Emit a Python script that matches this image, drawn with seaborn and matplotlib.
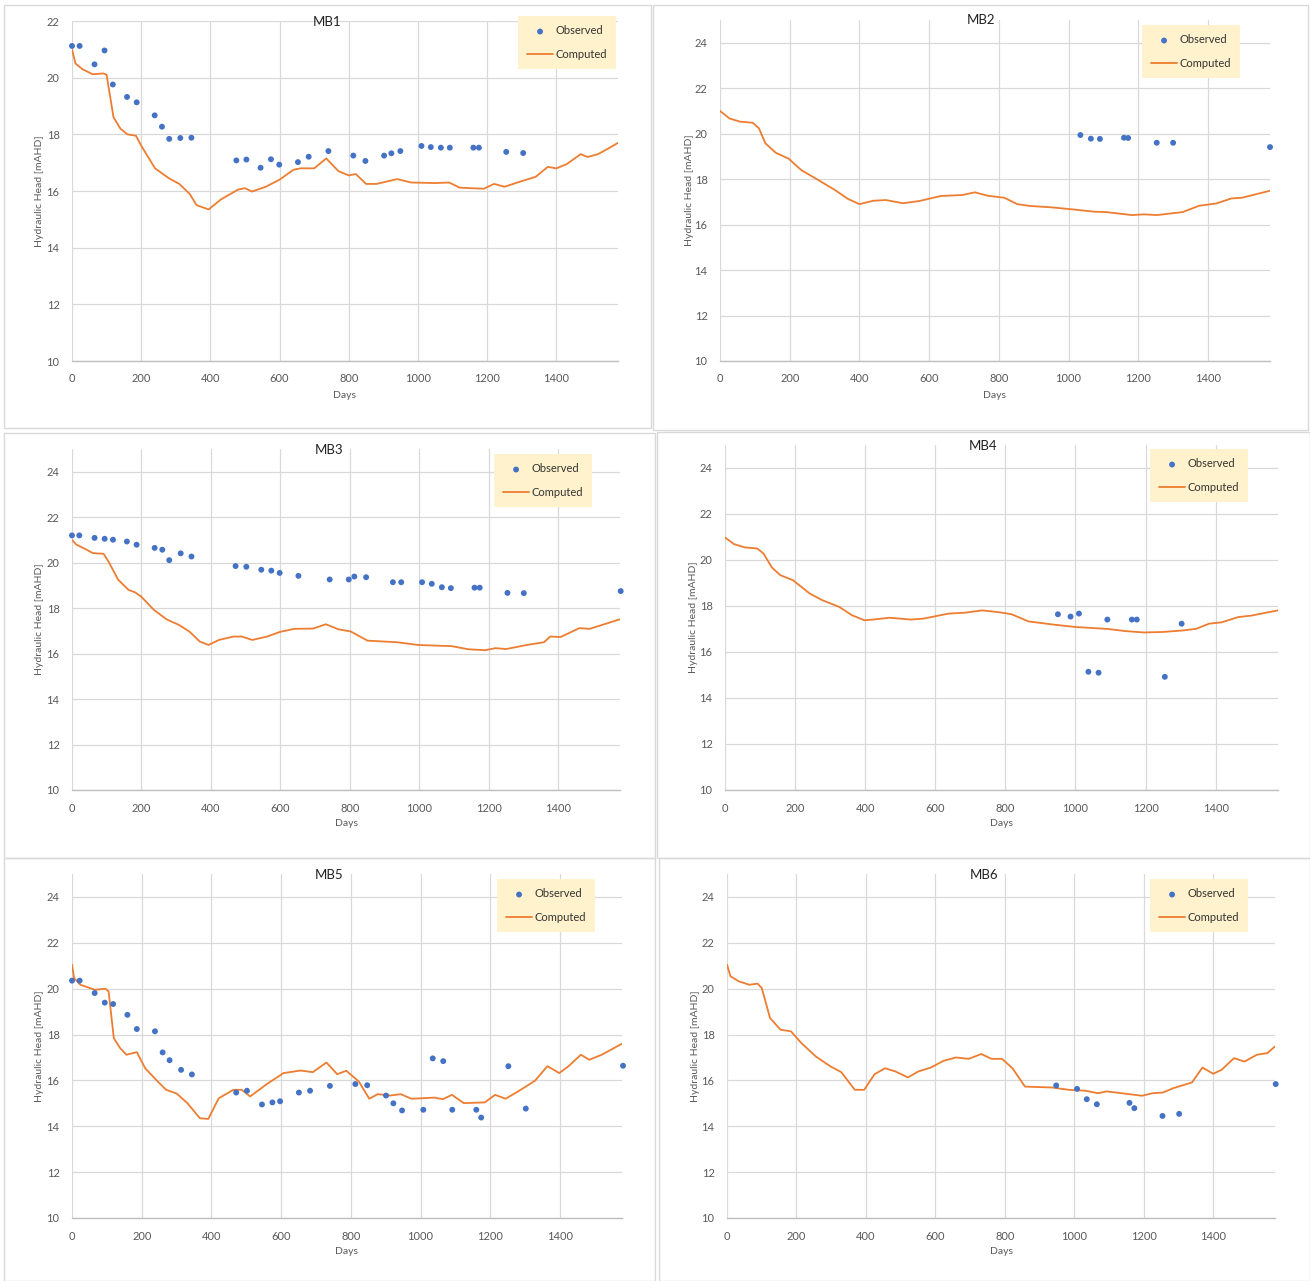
import pandas as pd
import seaborn as sns
import matplotlib.pyplot as plt
from matplotlib.patches import Rectangle

# observed heads (days, mAHD)
mb1_obs_days = [0, 22, 65, 94, 118, 159, 187, 239, 260, 281, 313, 345, 475, 504, 545, 575, 599,
                653, 684, 741, 813, 848, 902, 923, 949, 1010, 1037, 1066, 1092, 1160, 1176, 1255, 1304]
mb1_obs_head = [21.12, 21.12, 20.47, 20.96, 19.76, 19.32, 19.13, 18.67, 18.27, 17.84, 17.87, 17.88,
                17.08, 17.11, 16.82, 17.12, 16.93, 17.02, 17.21, 17.41, 17.25, 17.06, 17.25, 17.33,
                17.41, 17.59, 17.55, 17.53, 17.53, 17.53, 17.53, 17.38, 17.34]
mb2_obs_days = [1034, 1064, 1090, 1159, 1171, 1253, 1300, 1578]
mb2_obs_head = [19.94, 19.78, 19.77, 19.82, 19.81, 19.6, 19.6, 19.41]
mb3_obs_days = [0, 21, 65, 94, 118, 158, 186, 238, 260, 280, 313, 344, 471, 502, 545, 574, 598,
                652, 742, 797, 813, 847, 924, 948, 1008, 1036, 1065, 1091, 1159, 1174, 1254, 1301, 1580]
mb3_obs_head = [21.2, 21.2, 21.09, 21.05, 21.01, 20.93, 20.79, 20.65, 20.57, 20.11, 20.41, 20.27,
                19.85, 19.82, 19.69, 19.65, 19.55, 19.42, 19.26, 19.26, 19.39, 19.36, 19.14, 19.14,
                19.14, 19.07, 18.92, 18.88, 18.9, 18.9, 18.67, 18.66, 18.75]
mb4_obs_days = [950, 986, 1010, 1037, 1066, 1091, 1161, 1175, 1255, 1303]
mb4_obs_head = [17.64, 17.54, 17.67, 15.14, 15.1, 17.41, 17.41, 17.41, 14.92, 17.23]
mb5_obs_days = [0, 22, 65, 94, 118, 159, 186, 238, 260, 280, 313, 344, 471, 502, 545, 575, 597,
                651, 683, 740, 813, 847, 901, 922, 947, 1008, 1035, 1065, 1091, 1160, 1174, 1252, 1302, 1581]
mb5_obs_head = [20.35, 20.35, 19.81, 19.39, 19.33, 18.86, 18.24, 18.14, 17.22, 16.88, 16.46, 16.26,
                15.47, 15.55, 14.95, 15.04, 15.09, 15.47, 15.55, 15.76, 15.84, 15.79, 15.34, 15.0,
                14.69, 14.72, 16.96, 16.84, 14.72, 14.72, 14.38, 16.62, 14.77, 16.64]
mb6_obs_days = [948, 1008, 1036, 1065, 1159, 1173, 1254, 1302, 1580]
mb6_obs_head = [15.78, 15.63, 15.18, 14.96, 15.02, 14.79, 14.45, 14.54, 15.84]

# computed heads (days, mAHD)
mb1_sim_days = [0, 10, 30, 60, 90, 100, 120, 140, 160, 185, 200, 240, 280, 310, 340, 360, 395, 430,
                480, 500, 520, 560, 600, 640, 660, 700, 735, 770, 800, 820, 850, 880, 940, 980, 1050,
                1090, 1120, 1150, 1190, 1220, 1250, 1300, 1340, 1375, 1400, 1430, 1470, 1490, 1520,
                1550, 1578]
mb1_sim_head = [21.0, 20.5, 20.3, 20.12, 20.15, 20.1, 18.6, 18.2, 18.0, 17.95, 17.6, 16.8, 16.45,
                16.25, 15.9, 15.5, 15.35, 15.7, 16.05, 16.1, 15.98, 16.15, 16.4, 16.75, 16.8, 16.8,
                17.15, 16.7, 16.55, 16.6, 16.25, 16.25, 16.42, 16.3, 16.28, 16.3, 16.12, 16.1, 16.08,
                16.25, 16.15, 16.35, 16.5, 16.85, 16.8, 16.95, 17.3, 17.2, 17.3, 17.5, 17.7]
mb2_sim_days = [0, 27, 57, 94, 112, 130, 160, 197, 233, 282, 330, 367, 400, 440, 476, 525, 573, 634,
                695, 731, 768, 816, 853, 889, 950, 1011, 1072, 1108, 1181, 1217, 1254, 1327, 1375,
                1424, 1467, 1497, 1578]
mb2_sim_head = [21.0, 20.67, 20.53, 20.48, 20.23, 19.58, 19.16, 18.9, 18.4, 17.96, 17.52, 17.13,
                16.9, 17.05, 17.08, 16.94, 17.04, 17.26, 17.3, 17.42, 17.27, 17.18, 16.9, 16.82,
                16.76, 16.67, 16.57, 16.55, 16.42, 16.45, 16.42, 16.55, 16.83, 16.93, 17.15, 17.18,
                17.49]
mb3_sim_days = [0, 12, 42, 60, 91, 105, 133, 163, 181, 199, 236, 272, 308, 338, 368, 393, 423, 465,
                489, 519, 562, 598, 640, 694, 731, 767, 803, 851, 936, 996, 1069, 1093, 1141, 1190,
                1220, 1250, 1310, 1359, 1377, 1407, 1461, 1491, 1578]
mb3_sim_head = [21.0, 20.8, 20.57, 20.42, 20.39, 20.05, 19.25, 18.8, 18.7, 18.51, 17.92, 17.51,
                17.26, 16.97, 16.53, 16.38, 16.6, 16.75, 16.75, 16.6, 16.75, 16.95, 17.09, 17.1,
                17.29, 17.07, 16.97, 16.57, 16.5, 16.38, 16.34, 16.33, 16.19, 16.15, 16.24, 16.2,
                16.38, 16.5, 16.75, 16.73, 17.12, 17.09, 17.51]
mb4_sim_days = [0, 26, 56, 92, 110, 134, 158, 194, 242, 278, 326, 362, 398, 422, 470, 530, 566, 638,
                686, 734, 782, 818, 866, 938, 998, 1094, 1142, 1195, 1249, 1309, 1345, 1381, 1417,
                1465, 1501, 1578]
mb4_sim_head = [20.98, 20.69, 20.55, 20.5, 20.28, 19.67, 19.34, 19.12, 18.54, 18.25, 17.96, 17.6,
                17.38, 17.41, 17.49, 17.41, 17.45, 17.67, 17.71, 17.81, 17.73, 17.64, 17.33, 17.19,
                17.09, 17.0, 16.91, 16.85, 16.87, 16.94, 17.01, 17.23, 17.29, 17.52, 17.58, 17.81]
mb5_sim_days = [0, 6, 24, 66, 96, 105, 120, 138, 156, 186, 210, 246, 270, 300, 331, 367, 391, 421,
                463, 487, 511, 559, 607, 655, 691, 730, 761, 787, 823, 853, 877, 913, 943, 974, 1040,
                1064, 1090, 1124, 1184, 1214, 1244, 1280, 1328, 1364, 1398, 1424, 1460, 1484, 1520,
                1578]
mb5_sim_head = [21.05, 20.46, 20.17, 19.95, 20.0, 19.88, 17.84, 17.41, 17.12, 17.23, 16.53, 15.95,
                15.59, 15.43, 15.01, 14.35, 14.32, 15.22, 15.59, 15.59, 15.3, 15.84, 16.32, 16.43,
                16.36, 16.78, 16.27, 16.42, 15.95, 15.2, 15.4, 15.34, 15.4, 15.2, 15.25, 15.18,
                15.37, 15.01, 15.04, 15.37, 15.2, 15.52, 15.98, 16.62, 16.32, 16.61, 17.12, 16.9,
                17.12, 17.6]
mb6_sim_days = [0, 10, 34, 64, 88, 100, 124, 154, 184, 214, 256, 298, 329, 368, 395, 425, 455, 485,
                521, 551, 587, 623, 659, 696, 732, 762, 792, 822, 858, 936, 984, 1032, 1068, 1093,
                1153, 1195, 1225, 1255, 1285, 1339, 1369, 1400, 1424, 1460, 1490, 1526, 1556, 1578]
mb6_sim_head = [21.05, 20.54, 20.32, 20.17, 20.22, 20.03, 18.72, 18.21, 18.14, 17.63, 17.04, 16.61,
                16.36, 15.59, 15.59, 16.27, 16.53, 16.39, 16.13, 16.39, 16.56, 16.85, 17.0, 16.94,
                17.15, 16.94, 16.94, 16.53, 15.73, 15.69, 15.59, 15.55, 15.44, 15.52, 15.41, 15.33,
                15.44, 15.47, 15.66, 15.91, 16.56, 16.29, 16.46, 16.97, 16.82, 17.12, 17.19, 17.48]

wells = ['MB1', 'MB2', 'MB3', 'MB4', 'MB5', 'MB6']
obs = [(mb1_obs_days, mb1_obs_head), (mb2_obs_days, mb2_obs_head), (mb3_obs_days, mb3_obs_head),
       (mb4_obs_days, mb4_obs_head), (mb5_obs_days, mb5_obs_head), (mb6_obs_days, mb6_obs_head)]
sim = [(mb1_sim_days, mb1_sim_head), (mb2_sim_days, mb2_sim_head), (mb3_sim_days, mb3_sim_head),
       (mb4_sim_days, mb4_sim_head), (mb5_sim_days, mb5_sim_head), (mb6_sim_days, mb6_sim_head)]
y_top = [22, 25, 25, 25, 25, 25]
y_ticks_max = [22, 24, 24, 24, 24, 24]

# layout in pixels: panel box (x0, y0, x1, y1), plot area (left, top, right, bottom), legend box
panels = [(4, 5, 651, 428), (653, 5, 1308, 430), (4, 433, 655, 858),
          (657, 432, 1310, 858), (4, 858, 655, 1281), (659, 858, 1310, 1281)]
plot_areas = [(72, 21, 618, 361), (720, 20, 1270, 361), (72, 449, 620, 790),
              (725, 445, 1278, 790), (72, 874, 622, 1218), (727, 874, 1275, 1218)]
legend_boxes = [(514, 16, 616, 68), (1137, 25, 1240, 77), (489, 454, 592, 506),
                (1145, 449, 1248, 502), (491, 879, 595, 931), (1145, 879, 1248, 931)]
title_y = [22, 20, 450, 446, 875, 875]

W, H = 1310, 1281
BLUE = '#4472c4'
ORANGE = '#ed7d31'
GREY = '#595959'

sns.set_theme(style='whitegrid')
plt.rcParams['font.family'] = ['Lato', 'DejaVu Sans']

fig = plt.figure(figsize=(W / 100, H / 100), dpi=100)
fig.patch.set_facecolor('white')

for i, name in enumerate(wells):
    px0, py0, px1, py1 = panels[i]
    fig.patches.append(Rectangle((px0 / W, 1 - py1 / H), (px1 - px0) / W, (py1 - py0) / H,
                                 transform=fig.transFigure, fill=False,
                                 edgecolor='#d9d9d9', lw=1))
    l, t, r, b = plot_areas[i]
    ax = fig.add_axes([l / W, 1 - b / H, (r - l) / W, (b - t) / H])

    df_sim = pd.DataFrame({'Days': sim[i][0], 'Head': sim[i][1]})
    df_obs = pd.DataFrame({'Days': obs[i][0], 'Head': obs[i][1]})
    sns.scatterplot(data=df_obs, x='Days', y='Head', ax=ax, color=BLUE, s=18,
                    edgecolor='none', label='Observed', zorder=3, clip_on=False)
    sns.lineplot(data=df_sim, x='Days', y='Head', ax=ax, color=ORANGE, lw=1.3,
                 label='Computed', zorder=2)

    ax.set_xlim(0, 1578)
    ax.set_ylim(10, y_top[i])
    ax.set_xticks(range(0, 1401, 200))
    ax.set_yticks(range(10, y_ticks_max[i] + 1, 2))
    ax.grid(True, color='#d9d9d9', lw=0.9)
    for s in ['top', 'right', 'left']:
        ax.spines[s].set_visible(False)
    ax.spines['bottom'].set_color('#bfbfbf')
    ax.spines['bottom'].set_linewidth(1)
    ax.tick_params(axis='both', length=0, labelsize=8, colors=GREY)
    ax.tick_params(axis='y', pad=9)
    ax.tick_params(axis='x', pad=9)

    ax.set_xlabel('Days', fontsize=7.5, color=GREY)
    ax.set_ylabel('Hydraulic Head [mAHD]', fontsize=7.5, color=GREY)
    ax.xaxis.set_label_coords(0.5, -34 / (b - t))
    ax.xaxis.label.set_verticalalignment('center')
    ax.yaxis.set_label_coords(-(l - px0 - 36) / (r - l), 0.5)
    ax.yaxis.label.set_verticalalignment('center')

    fig.text((px0 + px1) / 2 / W, 1 - title_y[i] / H, name, ha='center', va='center',
             fontsize=9.5, color='#222222')

    lx0, ly0, lx1, ly1 = legend_boxes[i]
    leg = ax.legend(loc='upper right', bbox_to_anchor=(lx1 / W, 1 - ly0 / H),
                    bbox_transform=fig.transFigure, frameon=True, fancybox=False,
                    facecolor='#fff2cc', edgecolor='none', framealpha=1,
                    fontsize=8, labelspacing=1.1, borderpad=0.85, handlelength=2.3,
                    handletextpad=0.2, borderaxespad=0)
    for txt in leg.get_texts():
        txt.set_color('#333333')

fig.savefig('out.png', dpi=100, facecolor='white')
